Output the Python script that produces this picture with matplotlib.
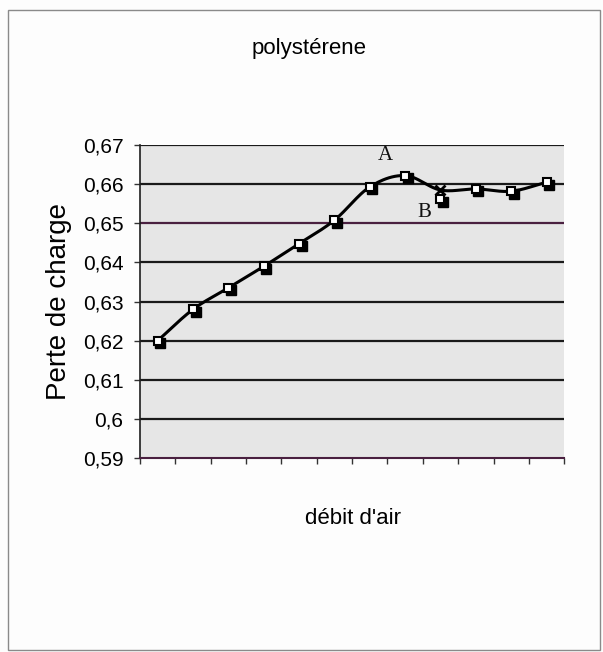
import numpy as np
import matplotlib
matplotlib.use("Agg")
import matplotlib.pyplot as plt
from matplotlib.patches import Rectangle
from matplotlib.transforms import offset_copy

# Measurements: pressure drop vs. air flow (12 flow steps)
categories = list(range(1, 13))
perte_de_charge = [0.620, 0.628, 0.6335, 0.639, 0.6448, 0.6508,
                   0.6593, 0.6622, 0.6585, 0.6588, 0.6582, 0.6605]
# step 9 is marked with a cross; its re-measured value is point B
cross_index = 8
point_b = (9, 0.6562)
point_a_label = (7.45, 0.6674)
point_b_label = (8.55, 0.6528)

y_ticks = [0.59, 0.60, 0.61, 0.62, 0.63, 0.64, 0.65, 0.66, 0.67]
y_tick_labels = ["0,59", "0,6", "0,61", "0,62", "0,63", "0,64", "0,65", "0,66", "0,67"]

title = "polystérene"
x_label = "débit d'air"
y_label = "Perte de charge"

FONT = ["Liberation Sans", "DejaVu Sans"]
SERIF = ["Liberation Serif", "DejaVu Serif"]


def catmull_rom(x, y, n=24):
    """Smooth curve through the points (like a spreadsheet 'smoothed line')."""
    x = np.asarray(x, float)
    y = np.asarray(y, float)
    px = np.concatenate([[2 * x[0] - x[1]], x, [2 * x[-1] - x[-2]]])
    py = np.concatenate([[2 * y[0] - y[1]], y, [2 * y[-1] - y[-2]]])
    xs, ys = [], []
    t = np.linspace(0, 1, n, endpoint=False)
    for i in range(1, len(px) - 2):
        p0, p1, p2, p3 = px[i - 1], px[i], px[i + 1], px[i + 2]
        q0, q1, q2, q3 = py[i - 1], py[i], py[i + 1], py[i + 2]
        t2, t3 = t * t, t * t * t
        xs.append(0.5 * (2 * p1 + (-p0 + p2) * t + (2 * p0 - 5 * p1 + 4 * p2 - p3) * t2
                         + (-p0 + 3 * p1 - 3 * p2 + p3) * t3))
        ys.append(0.5 * (2 * q1 + (-q0 + q2) * t + (2 * q0 - 5 * q1 + 4 * q2 - q3) * t2
                         + (-q0 + 3 * q1 - 3 * q2 + q3) * t3))
    xs.append([x[-1]])
    ys.append([y[-1]])
    return np.concatenate(xs), np.concatenate(ys)


fig = plt.figure(figsize=(6.03, 6.52), dpi=100, facecolor="#fdfdfd")
ax = fig.add_axes([0.2322, 0.2975, 0.7035, 0.4800])
ax.set_facecolor("#e6e6e6")

# outer chart frame
fig.patches.append(Rectangle((0.013, 0.003), 0.982, 0.982, transform=fig.transFigure,
                             fill=False, edgecolor="#8a8a8a", linewidth=1.0))

ax.set_xlim(0.5, 12.5)
ax.set_ylim(0.59, 0.67)

# horizontal gridlines
for v in y_ticks[1:]:
    col = "#4a2040" if abs(v - 0.65) < 1e-9 else "#1a1a1a"
    ax.axhline(v, color=col, linewidth=1.6, zorder=1)

# smoothed series line
sx, sy = catmull_rom(categories, perte_de_charge)
ax.plot(sx, sy, color="black", linewidth=2.2, zorder=3, solid_capstyle="round")

# square markers with a drop shadow
shadow = offset_copy(ax.transData, fig=fig, x=2.5, y=-2.5, units="dots")
mx = [c for i, c in enumerate(categories) if i != cross_index] + [point_b[0]]
my = [v for i, v in enumerate(perte_de_charge) if i != cross_index] + [point_b[1]]
ax.plot(mx, my, linestyle="none", marker="s", markersize=7.0,
        markerfacecolor="black", markeredgecolor="black", transform=shadow, zorder=4)
ax.plot(mx, my, linestyle="none", marker="s", markersize=5.4,
        markerfacecolor="white", markeredgecolor="black", markeredgewidth=1.5, zorder=5)

# cross on step 9
ax.plot([categories[cross_index]], [perte_de_charge[cross_index]], linestyle="none",
        marker="x", markersize=6.5, markeredgewidth=2.0, color="black", zorder=6)

ax.text(*point_a_label, "A", fontsize=15, family=SERIF, ha="center", va="center",
        color="#111111", zorder=7)
ax.text(*point_b_label, "B", fontsize=15, family=SERIF, ha="center", va="center",
        color="#111111", zorder=7)

# axes styling
for side in ("top", "right"):
    ax.spines[side].set_visible(False)
ax.spines["left"].set_color("#1e1e1e")
ax.spines["left"].set_linewidth(1.2)
ax.spines["bottom"].set_color("#4a2040")
ax.spines["bottom"].set_linewidth(1.5)

ax.set_yticks(y_ticks)
ax.set_yticklabels(y_tick_labels, family=FONT, fontsize=15)
ax.set_xticks(np.arange(0.5, 12.6, 1.0))
ax.set_xticklabels([])
ax.tick_params(axis="both", direction="out", length=4, width=1.0, color="#333333", pad=8)

ax.set_ylabel(y_label, family=FONT, fontsize=20, labelpad=8)
fig.text(0.512, 0.926, title, family=FONT, fontsize=16, ha="center", va="center")
fig.text(0.585, 0.205, x_label, family=FONT, fontsize=16, ha="center", va="center")

fig.savefig("out.png", dpi=100, facecolor=fig.get_facecolor())
